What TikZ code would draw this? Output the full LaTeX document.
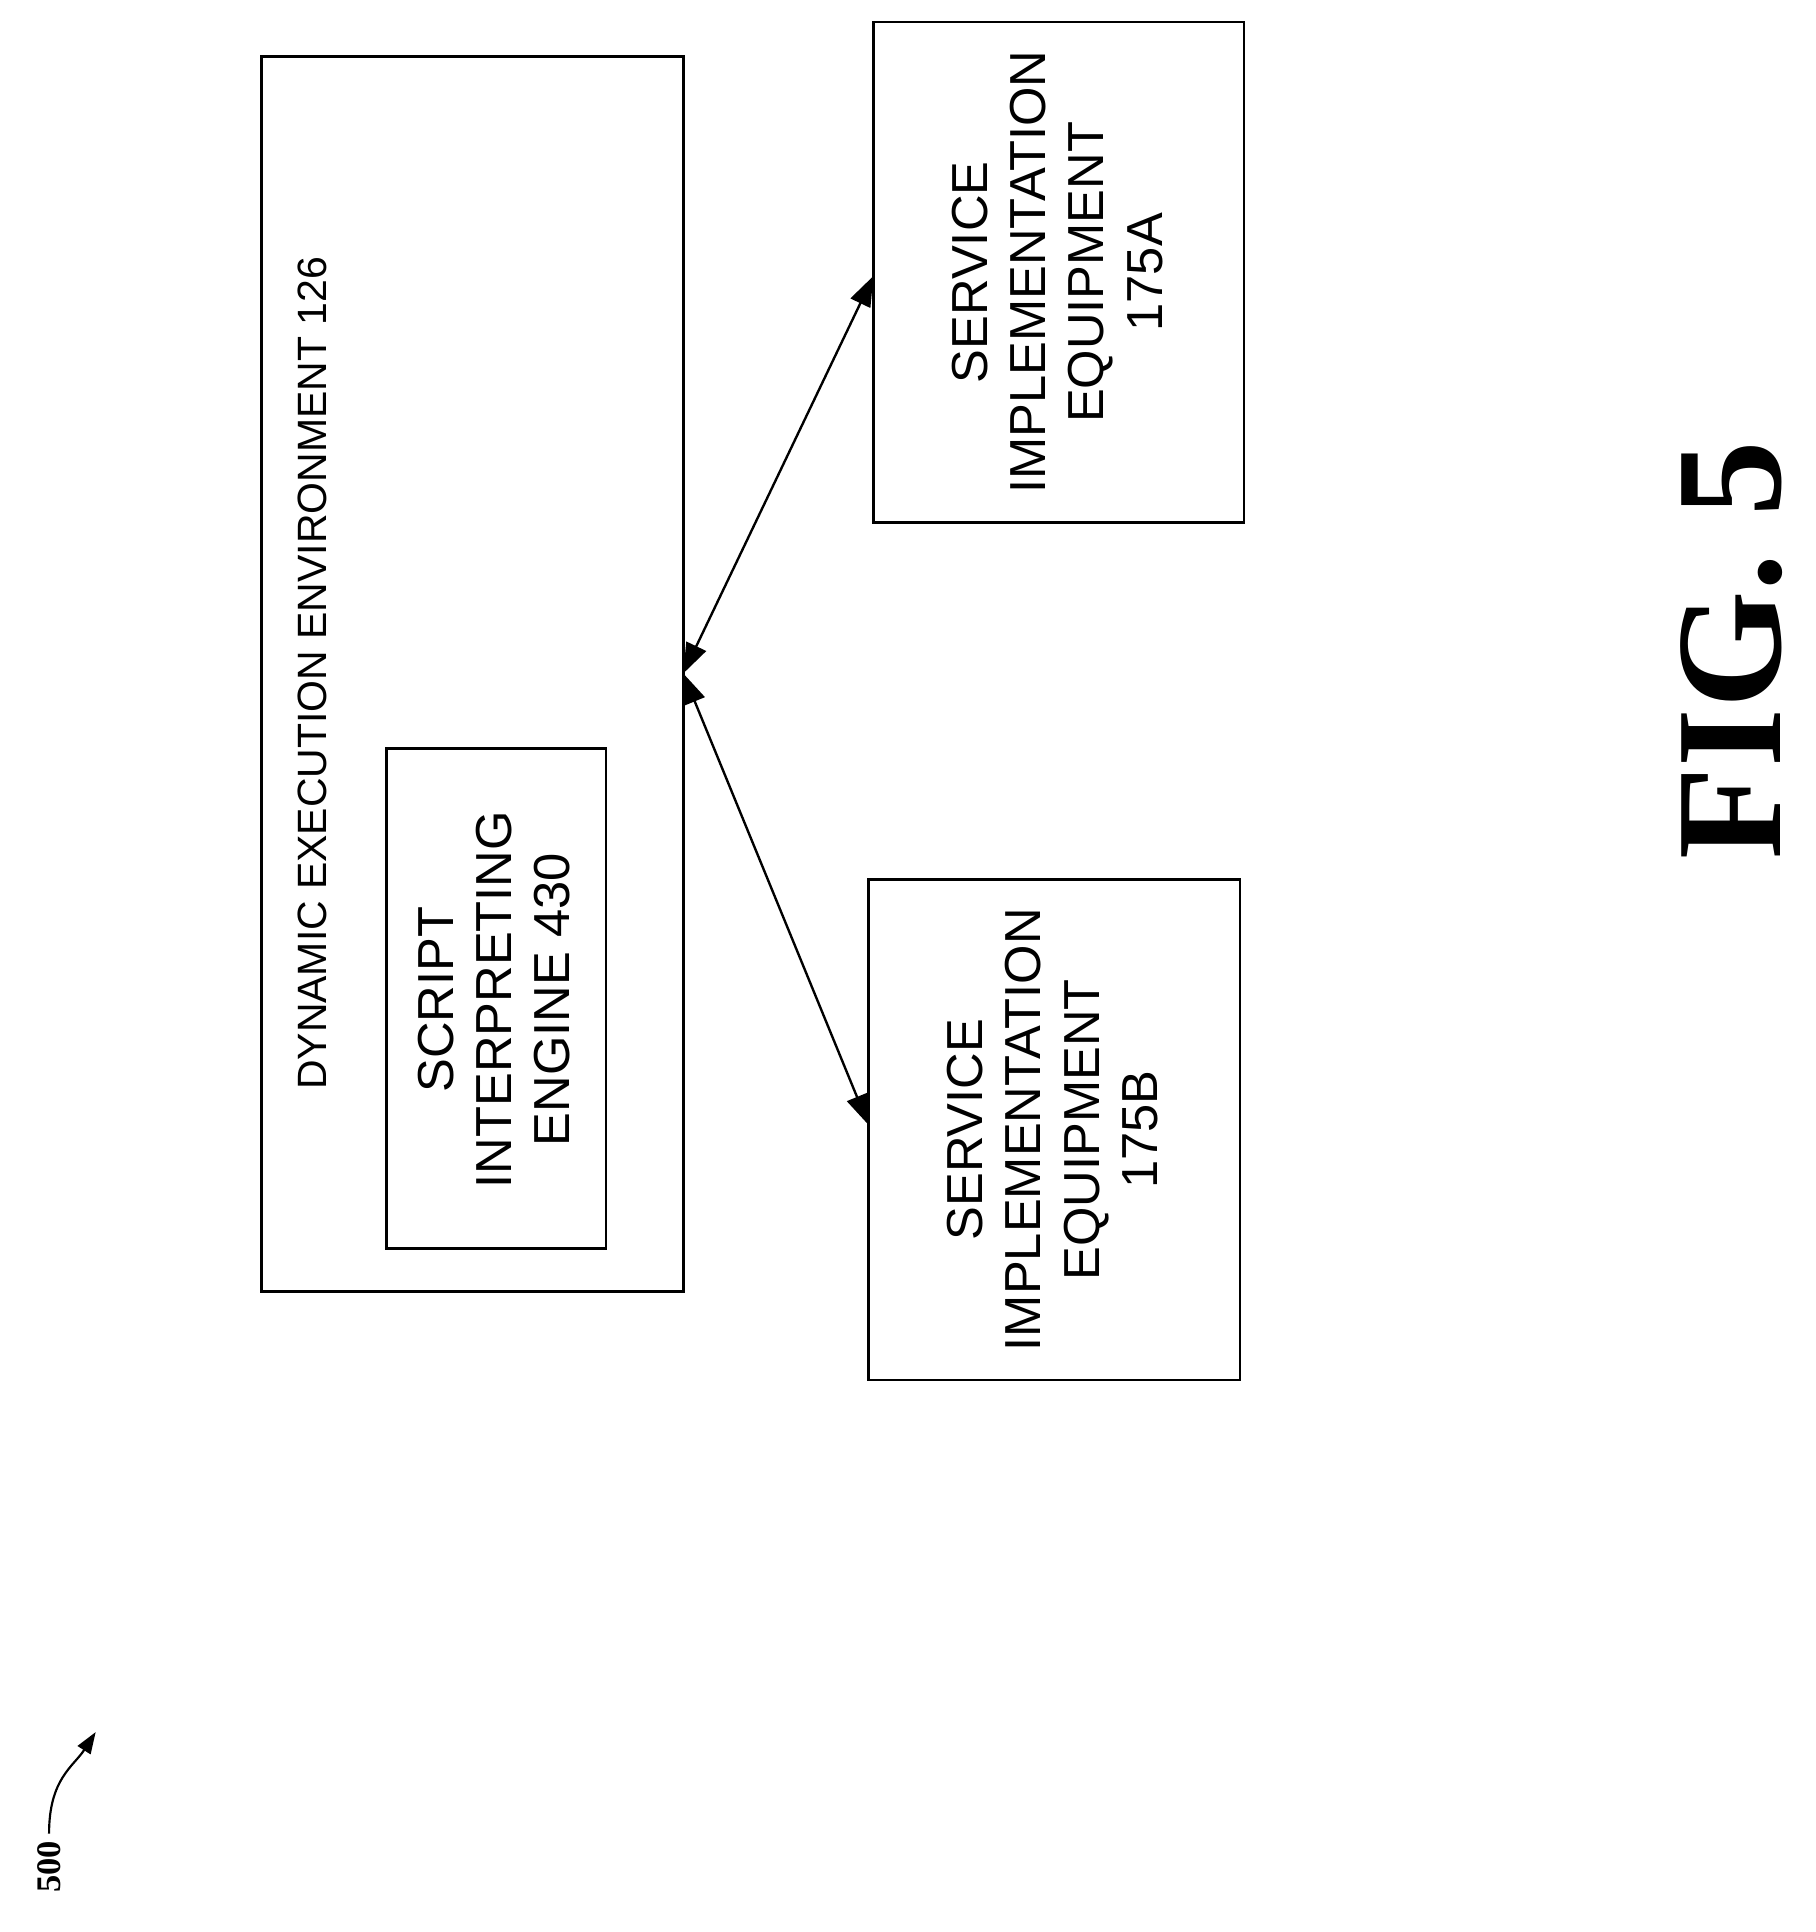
\documentclass[tikz,border=0pt]{standalone}
\usepackage{fontspec}
\setmainfont{Liberation Sans}
\newfontfamily\figfont{Liberation Serif}
\usetikzlibrary{arrows.meta}
\begin{document}
\begin{tikzpicture}[x=0.02cm, y=-0.02cm,
	blk/.style={draw, line width=1.2pt},
	lbl/.style={rotate=90, align=center, font=\fontsize{23.5}{27}\selectfont},
	link/.style={line width=1.1pt, {Triangle[length=14pt,width=10pt]}-{Triangle[length=14pt,width=10pt]}}]
	\useasboundingbox (0, 0) rectangle (1480, 1575);

	\draw[blk] (213, 46) rectangle (557, 1053);
	\node[rotate=90, font=\fontsize{19}{22}\selectfont] (dee) at (255, 549) {DYNAMIC EXECUTION ENVIRONMENT 126};
	\draw[blk] (315, 610) rectangle (494, 1018);
	\node[lbl] (sie) at (403, 815) {SCRIPT\\INTERPRETING\\ENGINE 430};

	\draw[blk] (712, 18) rectangle (1014, 426);
	\node[lbl] (sa) at (862, 222) {SERVICE\\IMPLEMENTATION\\EQUIPMENT\\175A};
	\draw[blk] (708, 717) rectangle (1011, 1125);
	\node[lbl] (sb) at (858, 921) {SERVICE\\IMPLEMENTATION\\EQUIPMENT\\175B};

	\coordinate (e) at (557, 549);
	\coordinate (a) at (712, 225);
	\coordinate (b) at (708, 917);
	\draw[link] (e) -- (a);
	\draw[link] (e) -- (b);

	\node[rotate=90, font=\figfont\bfseries\fontsize{70}{80}\selectfont] (fig) at (1412, 530) {FIG. 5};
	\node[rotate=90, font=\figfont\bfseries\fontsize{16}{19}\selectfont] (num) at (40, 1522) {500};
	\coordinate (t) at (78, 1412);
	\draw[line width=1pt, -{Triangle[length=10pt,width=7pt]}] (num.east) .. controls (40, 1450) and (60, 1440) .. (t);
\end{tikzpicture}
\end{document}
